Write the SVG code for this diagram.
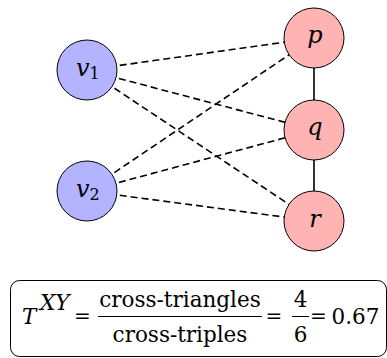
<svg xmlns="http://www.w3.org/2000/svg" width="387" height="358" viewBox="0 0 387 358">
<style>
.bg{fill:#fff}
.edge{stroke:#000;stroke-width:1.6;fill:none}
.dash{stroke-dasharray:7 4}
.nb{fill:#b3b3ff;stroke:#000;stroke-width:1}
.nr{fill:#ffb3b3;stroke:#000;stroke-width:1}
.lab{font-family:"DejaVu Serif",serif;font-style:italic;font-size:24px;fill:#000}
.sub{font-style:normal;font-size:16px}
.m{font-family:"DejaVu Serif",serif;font-size:21.5px;fill:#000}
.eq{font-size:20px}
.it{font-style:italic}
.box{fill:#fff;stroke:#000;stroke-width:1}
</style>
<rect class="bg" width="387" height="358"/>
<g id="connectors">
<line class="edge dash" x1="87" y1="70" x2="314" y2="38"/>
<line class="edge dash" x1="87" y1="70" x2="314" y2="130"/>
<line class="edge dash" x1="87" y1="70" x2="314" y2="221"/>
<line class="edge dash" x1="87" y1="191" x2="314" y2="38"/>
<line class="edge dash" x1="87" y1="191" x2="314" y2="130"/>
<line class="edge dash" x1="87" y1="191" x2="314" y2="221"/>
<line class="edge" x1="314" y1="38" x2="314" y2="130"/>
<line class="edge" x1="314" y1="130" x2="314" y2="221"/>
</g>
<g id="v1">
<circle class="nb" cx="87" cy="70" r="30"/>
<text class="lab" x="76" y="76">v<tspan class="sub" dy="3">1</tspan></text>
</g>
<g id="v2">
<circle class="nb" cx="87" cy="191" r="30"/>
<text class="lab" x="76" y="197">v<tspan class="sub" dy="3">2</tspan></text>
</g>
<g id="p">
<circle class="nr" cx="314" cy="38" r="30"/>
<text class="lab" x="315" y="43" text-anchor="middle">p</text>
</g>
<g id="q">
<circle class="nr" cx="314" cy="130" r="30"/>
<text class="lab" x="315" y="135" text-anchor="middle">q</text>
</g>
<g id="r">
<circle class="nr" cx="314" cy="221" r="30"/>
<text class="lab" x="315" y="227" text-anchor="middle">r</text>
</g>
<g id="formula">
<rect class="box" x="10.5" y="280.5" width="376" height="76" rx="9"/>
<text class="m it" x="22" y="324" font-size="24">T</text>
<text class="m it" x="40" y="310" font-size="15">XY</text>
<text class="m eq" x="82.5" y="323" text-anchor="middle">=</text>
<text class="m" x="180" y="307" text-anchor="middle">cross-triangles</text>
<line x1="98" y1="316.5" x2="262" y2="316.5" stroke="#000" stroke-width="1"/>
<text class="m" x="180" y="342" text-anchor="middle">cross-triples</text>
<text class="m eq" x="274" y="323" text-anchor="middle">=</text>
<text class="m" x="300.5" y="307" text-anchor="middle">4</text>
<line x1="292" y1="316.5" x2="309" y2="316.5" stroke="#000" stroke-width="1"/>
<text class="m" x="300.5" y="342" text-anchor="middle">6</text>
<text class="m eq" x="318.5" y="323" text-anchor="middle">=</text>
<text class="m" x="331.5" y="324">0.67</text>
</g>
</svg>
